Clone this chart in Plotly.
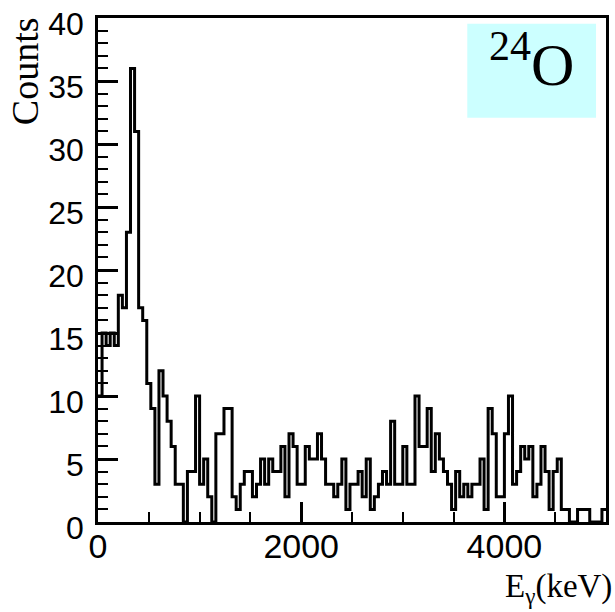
import numpy as np
import plotly.graph_objects as go

# Histogram of gamma energies, 40 keV bins from 0 to 5000 keV
BIN_WIDTH_KEV = 40
counts = [
    10, 15, 14, 15, 14, 18, 17, 23, 36, 31,
    17, 16, 11, 9, 3, 12, 10, 8, 6, 3,
    3, 0, 4, 4, 10, 3, 5, 2, 0, 7,
    7, 9, 9, 2, 1, 3, 4, 4, 2, 3,
    5, 3, 5, 4, 4, 6, 2, 7, 6, 3,
    3, 6, 5, 5, 7, 5, 3, 3, 2, 3,
    5, 1, 3, 3, 4, 2, 5, 1, 2, 3,
    4, 3, 8, 3, 3, 6, 3, 3, 10, 6,
    6, 9, 4, 7, 5, 4, 3, 1, 4, 2,
    3, 2, 3, 3, 5, 1, 9, 7, 2, 2,
    7, 10, 3, 4, 6, 5, 6, 2, 3, 6,
    4, 1, 4, 5, 1, 1, 0, 0, 1, 1,
    1, 0, 0, 0, 1,
]
x_range = [0, 5000]
y_range = [0, 40]
x_tick_step, x_minor_step = 2000, 500
y_tick_step, y_minor_step = 5, 1
x_title = "E<sub>γ</sub>(keV)"
y_title = "Counts"
isotope_label = "<sup>24</sup>O"

edges = np.arange(len(counts) + 1) * BIN_WIDTH_KEV
x_step = list(edges)
y_step = list(counts) + [counts[-1]]

fig = go.Figure()
fig.add_trace(go.Scatter(
    x=x_step, y=y_step, mode="lines",
    line=dict(shape="hv", color="black", width=3),
    showlegend=False, hoverinfo="skip",
))

W, H = 615, 612
L, R, T, B = 98, 8, 6, 90
pw, ph = W - L - R, H - T - B

def px_x(px):
    return (px - L) / pw

def px_y(py):
    return (H - B - py) / ph

axis_common = dict(
    showline=True, linecolor="black", linewidth=2.5, mirror=True,
    ticks="inside", tickcolor="black", tickwidth=2.5, ticklen=20,
    showgrid=False, zeroline=False, ticklabeloverflow="allow",
)
sans = "Liberation Sans, Arial, sans-serif"
serif = "Liberation Serif, Times New Roman, serif"

fig.update_xaxes(
    range=x_range, dtick=x_tick_step, tick0=0,
    minor=dict(dtick=x_minor_step, ticks="inside", ticklen=10, tickwidth=2, tickcolor="black"),
    ticklabelstandoff=-8,
    tickfont=dict(family=sans, size=34, color="black"),
    **axis_common,
)
fig.update_yaxes(
    range=y_range, dtick=y_tick_step, tick0=0,
    minor=dict(dtick=y_minor_step, ticks="inside", ticklen=10, tickwidth=2, tickcolor="black"),
    ticklabelstandoff=5, ticklabelshift=6,
    tickfont=dict(family=sans, size=32, color="black"),
    **axis_common,
)

fig.add_annotation(
    text=y_title, textangle=-90, showarrow=False,
    xref="paper", yref="paper", x=px_x(25), y=px_y(3),
    xanchor="center", yanchor="top",
    font=dict(family=serif, size=38, color="black"),
)
fig.add_annotation(
    text=x_title, showarrow=False,
    xref="paper", yref="paper", x=px_x(615), y=px_y(613),
    xanchor="right", yanchor="bottom",
    font=dict(family=serif, size=33, color="black"),
)

fig.add_shape(
    type="rect", xref="paper", yref="paper",
    x0=px_x(468), x1=px_x(597), y0=px_y(108), y1=px_y(12),
    fillcolor="#ccffff", line=dict(width=0), layer="above",
)
fig.add_annotation(
    text=isotope_label, showarrow=False,
    xref="paper", yref="paper", x=px_x(532), y=px_y(50),
    xanchor="center", yanchor="middle",
    font=dict(family=serif, size=60, color="black"),
)

fig.update_layout(
    width=W, height=H,
    margin=dict(l=L, r=R, t=T, b=B),
    paper_bgcolor="white", plot_bgcolor="white",
)

fig.write_html("out.html")
